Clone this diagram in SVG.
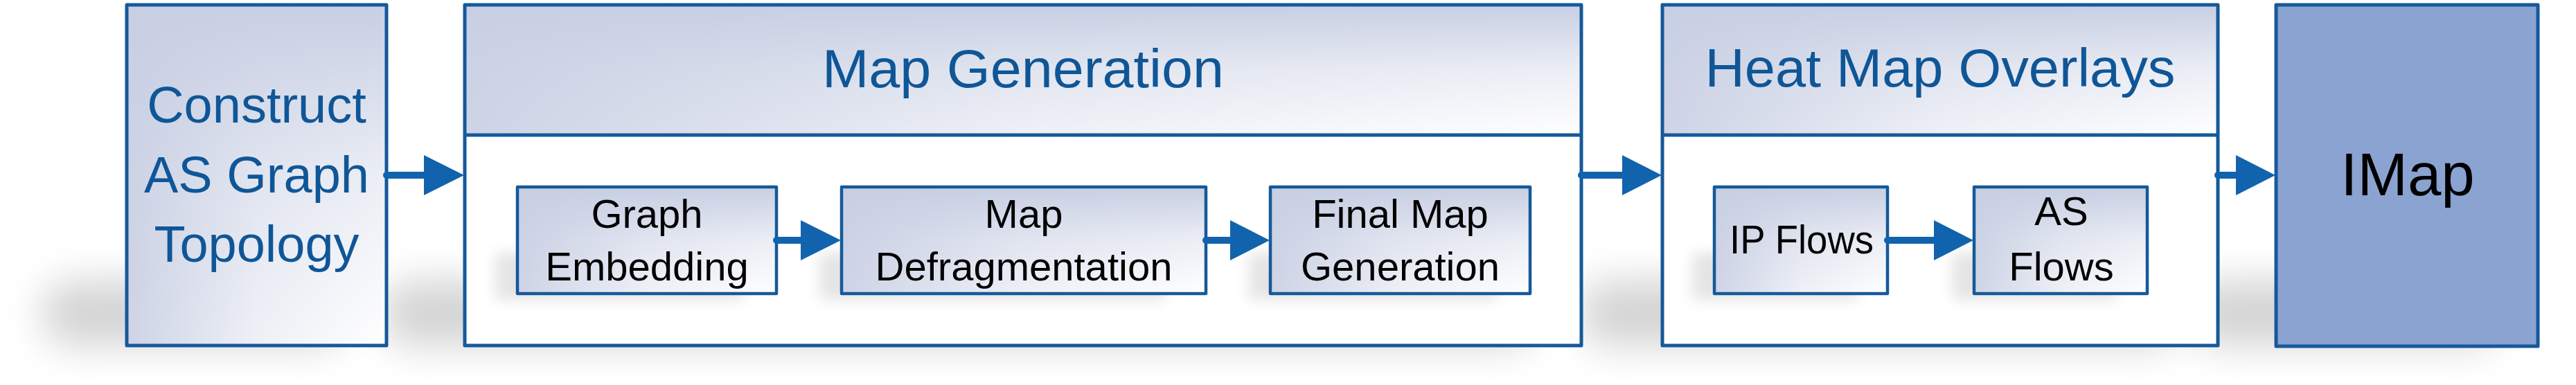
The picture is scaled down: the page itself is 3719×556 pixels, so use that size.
<svg xmlns="http://www.w3.org/2000/svg" width="3719" height="556" viewBox="0 0 3719 556">
<style>
.bg{fill:#ffffff}
.gv{fill:url(#gV)}
.gh{fill:url(#gH)}
.bd{fill:none;stroke:#15599a;stroke-width:5;stroke-linejoin:round}
.bdi{fill:none;stroke:#15599a;stroke-width:4.5;stroke-linejoin:round}
.sh{fill:#000;opacity:0.17;filter:url(#blurL)}
.shi{fill:#000;opacity:0.1;filter:url(#blurS)}
.tb{font-family:"Liberation Sans",Arial,sans-serif;fill:#0f5697;text-anchor:middle}
.tk{font-family:"Liberation Sans",Arial,sans-serif;fill:#000;text-anchor:middle}
.ln{stroke:#1163ae;stroke-width:10;stroke-linecap:round;fill:none}
.hd{fill:#1163ae}
</style>
<defs>
<linearGradient id="gV" x1="0" y1="0" x2="0" y2="1">
<stop offset="0" stop-color="#c8cfe3" stop-opacity="1"/>
<stop offset="0.5" stop-color="#c8cfe3" stop-opacity="0.35"/>
<stop offset="1" stop-color="#c8cfe3" stop-opacity="0"/>
</linearGradient>
<linearGradient id="gH" x1="0" y1="0" x2="1" y2="0">
<stop offset="0" stop-color="#c8cfe3" stop-opacity="0.9"/>
<stop offset="0.5" stop-color="#c8cfe3" stop-opacity="0.3"/>
<stop offset="1" stop-color="#c8cfe3" stop-opacity="0"/>
</linearGradient>
<filter id="blurL" x="-50%" y="-100%" width="200%" height="300%"><feGaussianBlur stdDeviation="28"/></filter>
<filter id="blurS" x="-50%" y="-100%" width="200%" height="300%"><feGaussianBlur stdDeviation="10"/></filter>
</defs>

<g id="shadows">
<rect class="sh" x="60" y="405" width="440" height="95" rx="45"/>
<rect class="sh" x="550" y="405" width="1670" height="95" rx="45"/>
<rect class="sh" x="2280" y="405" width="870" height="95" rx="45"/>
<rect class="sh" x="3160" y="405" width="450" height="95" rx="45"/>
</g>

<g id="node-construct">
<rect class="bg" x="183" y="7" width="375" height="492"/>
<rect class="gv" x="183" y="7" width="375" height="492"/>
<rect class="gh" x="183" y="7" width="375" height="492"/>
<rect class="bd" x="183" y="7" width="375" height="492"/>
<text class="tb" font-size="74" x="370.5" y="177">Construct</text>
<text class="tb" font-size="74" x="370.5" y="278">AS Graph</text>
<text class="tb" font-size="74" x="370.5" y="378">Topology</text>
</g>

<g id="node-mapgen">
<rect class="bg" x="671" y="7" width="1612" height="492"/>
<rect class="gv" x="671" y="7" width="1612" height="188"/>
<rect class="gh" x="671" y="7" width="1612" height="188"/>
<rect class="bd" x="671" y="7" width="1612" height="492"/>
<line class="bd" x1="671" y1="195" x2="2283" y2="195"/>
<text class="tb" font-size="78" x="1477" y="126" textLength="580" lengthAdjust="spacingAndGlyphs">Map Generation</text>
</g>

<g id="node-heat">
<rect class="bg" x="2400" y="7" width="802" height="492"/>
<rect class="gv" x="2400" y="7" width="802" height="188"/>
<rect class="gh" x="2400" y="7" width="802" height="188"/>
<rect class="bd" x="2400" y="7" width="802" height="492"/>
<line class="bd" x1="2400" y1="195" x2="3202" y2="195"/>
<text class="tb" font-size="78" x="2801" y="125" textLength="679" lengthAdjust="spacingAndGlyphs">Heat Map Overlays</text>
</g>

<g id="inner-shadows">
<rect class="shi" x="715" y="365" width="360" height="68"/>
<rect class="shi" x="1183" y="365" width="500" height="68"/>
<rect class="shi" x="1803" y="365" width="360" height="68"/>
<rect class="shi" x="2443" y="365" width="240" height="68"/>
<rect class="shi" x="2818" y="365" width="240" height="68"/>
</g>

<g id="node-embedding">
<rect class="bg" x="747" y="270" width="374" height="154"/>
<rect class="gv" x="747" y="270" width="374" height="154"/>
<rect class="gh" x="747" y="270" width="374" height="154"/>
<rect class="bdi" x="747" y="270" width="374" height="154"/>
<text class="tk" font-size="58" x="934" y="329">Graph</text>
<text class="tk" font-size="58" x="934" y="405">Embedding</text>
</g>

<g id="node-defrag">
<rect class="bg" x="1215" y="270" width="526" height="154"/>
<rect class="gv" x="1215" y="270" width="526" height="154"/>
<rect class="gh" x="1215" y="270" width="526" height="154"/>
<rect class="bdi" x="1215" y="270" width="526" height="154"/>
<text class="tk" font-size="58" x="1478" y="329">Map</text>
<text class="tk" font-size="58" x="1478" y="405">Defragmentation</text>
</g>

<g id="node-final">
<rect class="bg" x="1834" y="270" width="375" height="154"/>
<rect class="gv" x="1834" y="270" width="375" height="154"/>
<rect class="gh" x="1834" y="270" width="375" height="154"/>
<rect class="bdi" x="1834" y="270" width="375" height="154"/>
<text class="tk" font-size="58" x="2021.5" y="329">Final Map</text>
<text class="tk" font-size="58" x="2021.5" y="405">Generation</text>
</g>

<g id="node-ipflows">
<rect class="bg" x="2475" y="270" width="250" height="154"/>
<rect class="gv" x="2475" y="270" width="250" height="154"/>
<rect class="gh" x="2475" y="270" width="250" height="154"/>
<rect class="bdi" x="2475" y="270" width="250" height="154"/>
<text class="tk" font-size="58" x="2601" y="366" textLength="208" lengthAdjust="spacingAndGlyphs">IP Flows</text>
</g>

<g id="node-asflows">
<rect class="bg" x="2850" y="270" width="250" height="154"/>
<rect class="gv" x="2850" y="270" width="250" height="154"/>
<rect class="gh" x="2850" y="270" width="250" height="154"/>
<rect class="bdi" x="2850" y="270" width="250" height="154"/>
<text class="tk" font-size="58" x="2976" y="325">AS</text>
<text class="tk" font-size="58" x="2976" y="405">Flows</text>
</g>

<g id="node-imap">
<rect x="3286" y="7" width="378" height="493" fill="#8aa3d1" stroke="#15599a" stroke-width="5" stroke-linejoin="round"/>
<text class="tk" font-size="87" x="3476" y="282">IMap</text>
</g>

<g id="connectors">
<line class="ln" x1="558" y1="253" x2="616" y2="253"/>
<polygon class="hd" points="612,224 670,253 612,282"/>
<line class="ln" x1="2283" y1="253" x2="2346" y2="253"/>
<polygon class="hd" points="2342,224 2399,253 2342,282"/>
<line class="ln" x1="3202" y1="253" x2="3232" y2="253"/>
<polygon class="hd" points="3228,224 3285,253 3228,282"/>
<line class="ln" x1="1121" y1="347" x2="1160" y2="347"/>
<polygon class="hd" points="1156,318 1214,347 1156,376"/>
<line class="ln" x1="1741" y1="347" x2="1780" y2="347"/>
<polygon class="hd" points="1776,318 1833,347 1776,376"/>
<line class="ln" x1="2725" y1="347" x2="2796" y2="347"/>
<polygon class="hd" points="2792,318 2849,347 2792,376"/>
</g>
</svg>
